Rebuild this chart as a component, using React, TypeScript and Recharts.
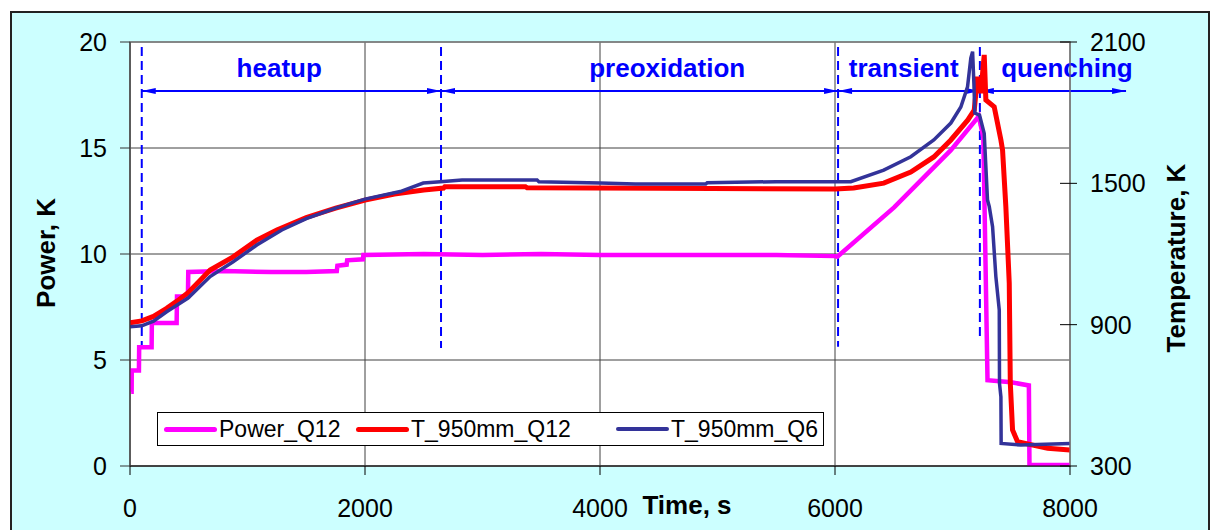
import {
  ComposedChart,
  Line,
  XAxis,
  YAxis,
  CartesianGrid,
  Legend,
  ReferenceLine,
  ReferenceArea,
  Customized,
} from "recharts";

const FONT = "'Liberation Sans', Arial, sans-serif";

const timeTicks = [0, 2000, 4000, 6000, 8000];
const powerTicks = [0, 5, 10, 15, 20];
const tempTicks = [300, 900, 1500, 2100];

// [time s, power]
const powerQ12: [number, number][] = [
  [10, 3.5], [14, 3.5], [15, 4.5], [76, 4.5], [78, 5.6], [184, 5.6], [186, 6.75],
  [397, 6.75], [400, 8.0], [493, 8.0], [496, 9.15], [800, 9.2], [1200, 9.15],
  [1500, 9.15], [1760, 9.2], [1765, 9.45], [1844, 9.5], [1848, 9.7], [1982, 9.75],
  [1986, 9.95], [2500, 10.0], [3000, 9.95], [3500, 10.0], [4000, 9.95], [5000, 9.95],
  [5500, 9.95], [6000, 9.9], [6020, 9.87], [6503, 12.2], [6986, 14.9], [7224, 16.5],
  [7262, 15.5], [7272, 12.5], [7298, 4.05], [7500, 3.95], [7650, 3.8], [7655, 0.05],
  [8000, 0.05],
];

// [time s, temperature K]
const tempQ12: [number, number][] = [
  [0, 908], [100, 916], [200, 935], [312, 969], [400, 1000], [494, 1036], [600, 1090],
  [682, 1132], [878, 1188], [1079, 1259], [1250, 1302], [1500, 1355], [1750, 1395],
  [2000, 1429], [2250, 1455], [2500, 1472], [2669, 1480], [2680, 1486], [3365, 1486],
  [3380, 1481], [4500, 1479], [6000, 1476], [6159, 1480], [6415, 1501], [6645, 1548],
  [6841, 1612], [6986, 1684], [7131, 1769], [7185, 1811], [7213, 1953], [7241, 1883],
  [7260, 1990], [7270, 2045], [7284, 1854], [7355, 1825], [7412, 1684], [7426, 1641],
  [7454, 1401], [7483, 1076], [7492, 651], [7511, 453], [7554, 403], [7810, 375],
  [8000, 368],
];

const tempQ6: [number, number][] = [
  [0, 891], [100, 895], [200, 915], [312, 955], [494, 1013], [682, 1104], [878, 1167],
  [1079, 1238], [1292, 1302], [1500, 1350], [1750, 1395], [2000, 1433], [2300, 1465],
  [2496, 1501], [2641, 1507], [2826, 1514], [3465, 1514], [3480, 1507], [4000, 1501],
  [4300, 1497], [4900, 1497], [4913, 1503], [5500, 1507], [6134, 1507], [6415, 1556],
  [6645, 1613], [6841, 1684], [6986, 1756], [7071, 1824], [7128, 1910], [7156, 2032],
  [7171, 2059], [7182, 1926], [7190, 1798], [7230, 1790], [7270, 1712], [7298, 1429],
  [7313, 1401], [7341, 1316], [7369, 1104], [7398, 962], [7400, 651], [7412, 594],
  [7414, 396], [7582, 389], [8000, 396],
];

// test phases (s)
const phaseNames = ["heatup", "preoxidation", "transient", "quenching"];
const phaseStarts = [100, 2647, 6026, 7233];
const phaseEnd = 8477;
const phaseLabelAt = [1270, 4572, 6585, 7974];
const markerBottoms = [5.7, 5.57, 5.63, 5.94];
const markerTop = 19.76;
const arrowLevel = 17.69;

const toRows = (arr: [number, number][]) => arr.map(([t, v]) => ({ t, v }));

const lineWidths: Record<string, number> = {
  Power_Q12: 5,
  T_950mm_Q12: 5,
  T_950mm_Q6: 3.5,
};

function RightTick(props: any) {
  const { x, y, payload } = props;
  const axisX = x - 20;
  return (
    <g>
      <line x1={axisX - 10} y1={y} x2={axisX + 7} y2={y} stroke="#000" />
      <text x={x} y={y} dy="0.36em" textAnchor="start" fontSize={25} fill="#000">
        {payload.value}
      </text>
    </g>
  );
}

function PhaseArrow(props: any) {
  const { x1, y1, x2, name, from, to, labelAt } = props;
  const head = 14;
  const half = 3;
  const lx = x1 + ((labelAt - from) / (to - from)) * (x2 - x1);
  return (
    <g>
      <line x1={x1} y1={y1} x2={x2} y2={y1} stroke="#0000FF" strokeWidth={2} />
      <polygon points={`${x1},${y1} ${x1 + head},${y1 - half} ${x1 + head},${y1 + half}`} fill="#0000FF" />
      <polygon points={`${x2},${y1} ${x2 - head},${y1 - half} ${x2 - head},${y1 + half}`} fill="#0000FF" />
      <text x={lx} y={y1 - 14} textAnchor="middle" fontSize={26} fontWeight="bold" fill="#0000FF">
        {name}
      </text>
    </g>
  );
}

function LegendBox({ payload }: { payload?: any[] }) {
  const starts = [6, 198, 458];
  return (
    <div
      style={{
        position: "relative",
        width: 667,
        height: 34,
        border: "1px solid #000",
        background: "#fff",
        boxSizing: "border-box",
        fontFamily: FONT,
        fontSize: 23,
        color: "#000",
      }}
    >
      {(payload || []).map((p, i) => (
        <div
          key={p.value}
          style={{
            position: "absolute",
            left: starts[i],
            top: 0,
            height: 32,
            display: "flex",
            alignItems: "center",
            whiteSpace: "nowrap",
          }}
        >
          <span
            style={{
              display: "inline-block",
              width: 53,
              height: lineWidths[p.value] || 4,
              background: p.color,
              borderRadius: 3,
              marginRight: 2,
            }}
          />
          <span>{p.value}</span>
        </div>
      ))}
    </div>
  );
}

function Titles() {
  return (
    <g fontFamily={FONT} fontWeight="bold" fontSize={26} fill="#000">
      <text transform="translate(55,253) rotate(-90)" textAnchor="middle">Power, K</text>
      <text transform="translate(1185,258) rotate(-90)" textAnchor="middle">Temperature, K</text>
      <text x={687} y={514} textAnchor="middle">Time, s</text>
    </g>
  );
}

export default function App() {
  return (
    <div style={{ position: "absolute", left: 0, top: 0, width: 1211, height: 530, overflow: "hidden" }}>
      <div
        style={{
          position: "absolute",
          left: 10,
          top: 11,
          width: 1200,
          height: 540,
          background: "#CCFFFF",
          border: "2px solid #222",
          boxSizing: "border-box",
        }}
      />
      <div style={{ position: "absolute", left: 0, top: 0 }}>
        <ComposedChart
          width={1211}
          height={530}
          margin={{ top: 42, right: 0, bottom: 0, left: 0 }}
          style={{ fontFamily: FONT }}
        >
          <CartesianGrid stroke="#404040" fill="#fff" fillOpacity={1} />
          <ReferenceArea x1={0} x2={8000} y1={0} y2={20} fill="none" stroke="#808080" strokeWidth={1.5} />
          <XAxis
            dataKey="t"
            type="number"
            domain={[0, 8000]}
            ticks={timeTicks}
            allowDataOverflow
            height={64}
            tickSize={9}
            tickMargin={24}
            stroke="#000"
            tick={{ fontSize: 25, fill: "#000" }}
          />
          <YAxis
            domain={[0, 20]}
            ticks={powerTicks}
            allowDataOverflow
            width={130}
            tickSize={10}
            tickMargin={13}
            stroke="#333"
            tick={{ fontSize: 25, fill: "#000" }}
          />
          <YAxis
            yAxisId="T"
            orientation="right"
            domain={[300, 2100]}
            ticks={tempTicks}
            allowDataOverflow
            width={141}
            tickSize={7}
            tickMargin={13}
            tickLine={false}
            stroke="#808080"
            tick={RightTick}
          />
          {phaseStarts.map((t, i) => (
            <ReferenceLine
              key={"m" + t}
              segment={[{ x: t, y: markerTop }, { x: t, y: markerBottoms[i] }]}
              stroke="#0000FF"
              strokeWidth={2}
              strokeDasharray="9 5"
              ifOverflow="visible"
            />
          ))}
          {phaseStarts.map((t, i) => {
            const to = i + 1 < phaseStarts.length ? phaseStarts[i + 1] : phaseEnd;
            return (
              <ReferenceLine
                key={"a" + t}
                segment={[{ x: t, y: arrowLevel }, { x: to, y: arrowLevel }]}
                ifOverflow="visible"
                shape={(p: any) => (
                  <PhaseArrow {...p} name={phaseNames[i]} from={t} to={to} labelAt={phaseLabelAt[i]} />
                )}
              />
            );
          })}
          <Line
            data={toRows(powerQ12)}
            dataKey="v"
            name="Power_Q12"
            stroke="#FF00FF"
            strokeWidth={4.5}
            dot={false}
            type="linear"
            isAnimationActive={false}
          />
          <Line
            data={toRows(tempQ12)}
            dataKey="v"
            yAxisId="T"
            name="T_950mm_Q12"
            stroke="#FF0000"
            strokeWidth={5}
            dot={false}
            type="linear"
            isAnimationActive={false}
          />
          <Line
            data={toRows(tempQ6)}
            dataKey="v"
            yAxisId="T"
            name="T_950mm_Q6"
            stroke="#333399"
            strokeWidth={3.5}
            dot={false}
            type="linear"
            isAnimationActive={false}
          />
          <Legend
            layout="horizontal"
            verticalAlign="middle"
            align="center"
            content={<LegendBox />}
            wrapperStyle={{ left: 157, top: 412, width: 667, height: 34 }}
          />
          <Customized component={Titles} />
        </ComposedChart>
      </div>
    </div>
  );
}
